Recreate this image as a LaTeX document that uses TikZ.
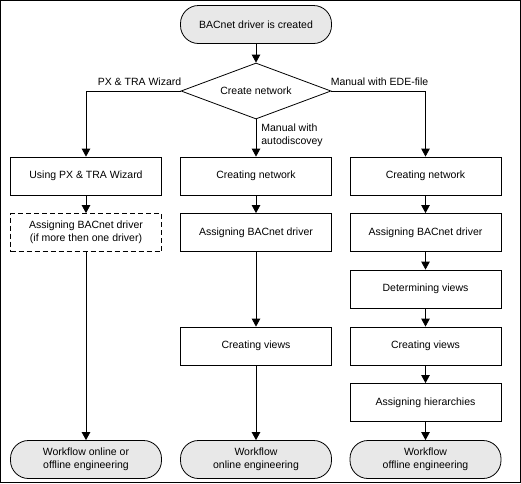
\documentclass[tikz,border=0pt]{standalone}
\usepackage{fontspec}
\setmainfont{Liberation Sans}
\usetikzlibrary{shapes.geometric,arrows.meta,positioning}
\definecolor{termgray}{RGB}{232,232,232}

\begin{document}
\begin{tikzpicture}[
  x=1pt, y=-1pt,
  font=\fontsize{10.5}{13}\selectfont,
  box/.style={rectangle, draw, line width=0.8pt, fill=white, minimum width=151pt, minimum height=38pt, align=center, inner sep=0pt},
  term/.style={box, rounded corners=18pt, fill=termgray},
  decision/.style={diamond, draw, line width=0.8pt, minimum width=150pt, minimum height=56pt, aspect=2.7, inner sep=0pt},
  lbl/.style={inner sep=0pt, align=left},
  arrow/.style={-{Triangle[width=8.5pt,length=8pt]}, line width=0.8pt}
]

% Frame
\useasboundingbox (0,0) rectangle (521,483);
\draw[line width=1pt] (0.5,0.5) rectangle (520,482);

% Start and decision
\node[term] (start) at (256,24.5) {BACnet driver is created};
\node[decision] (create) at (256,91) {Create network};

% PX & TRA Wizard
\node[box] (wizard) at (86,176) {Using PX \& TRA Wizard};
\node[box, dash pattern=on 5pt off 3pt] (assignwiz) at (86,232.5) {Assigning BACnet driver\\(if more then one driver)};
\node[term] (endboth) at (86,459.5) {Workflow online or\\offline engineering};

% Manual with autodiscovey
\node[box] (autonet) at (256,176) {Creating network};
\node[box] (autoassign) at (256,232.5) {Assigning BACnet driver};
\node[box] (autoviews) at (256,346) {Creating views};
\node[term] (endonline) at (256,459.5) {Workflow\\online engineering};

% Manual with EDE-file
\node[box] (edenet) at (425.5,176) {Creating network};
\node[box] (edeassign) at (425.5,232.5) {Assigning BACnet driver};
\node[box] (edeviews) at (425.5,289) {Determining views};
\node[box] (edecreate) at (425.5,346) {Creating views};
\node[box] (edehier) at (425.5,402.5) {Assigning hierarchies};
\node[term] (endoffline) at (425.5,459.5) {Workflow\\offline engineering};

% Branches
\draw[arrow] (start) -- (create);
\draw[arrow] (create.west) -| node[lbl, pos=0, anchor=south east, xshift=1pt, yshift=5pt] {PX \& TRA Wizard} (wizard.north);
\draw[arrow] (create.east) -| node[lbl, pos=0, anchor=south west, xshift=-1pt, yshift=5pt] {Manual with EDE-file} (edenet.north);
\draw[arrow] (create.south) -- node[lbl, pos=0, anchor=north west, xshift=5pt, yshift=-4pt] {Manual with\\autodiscovey} (autonet.north);

% Left column
\draw[arrow] (wizard) -- (assignwiz);
\draw[arrow] (assignwiz) -- (endboth);

% Middle column
\draw[arrow] (autonet) -- (autoassign);
\draw[arrow] (autoassign) -- (autoviews);
\draw[arrow] (autoviews) -- (endonline);

% Right column
\draw[arrow] (edenet) -- (edeassign);
\draw[arrow] (edeassign) -- (edeviews);
\draw[arrow] (edeviews) -- (edecreate);
\draw[arrow] (edecreate) -- (edehier);
\draw[arrow] (edehier) -- (endoffline);

\end{tikzpicture}
\end{document}
